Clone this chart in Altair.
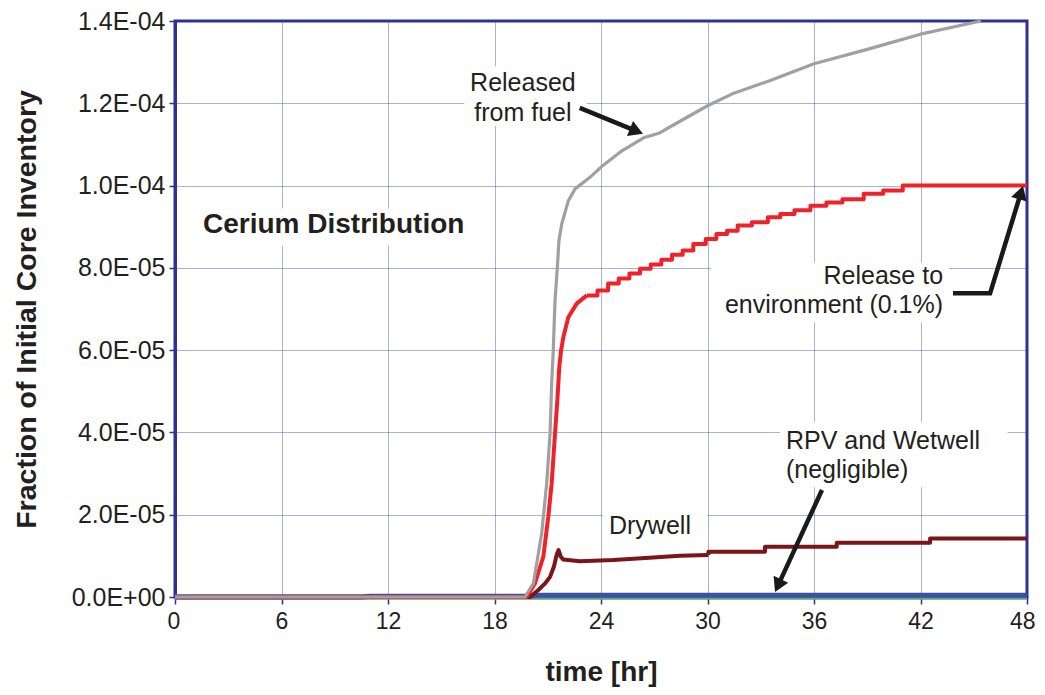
import altair as alt
import pandas as pd

# ---------------- data ----------------
x_ticks = [0, 6, 12, 18, 24, 30, 36, 42, 48]
y_ticks = [0, 2e-5, 4e-5, 6e-5, 8e-5, 1e-4, 1.2e-4, 1.4e-4]

# Released from fuel (grey)
gray_t = [0, 19.72, 20.19, 20.66, 20.94, 21.13, 21.22, 21.31, 21.41, 21.54, 21.63,
          21.79, 22.16, 22.54, 23.38, 24.0, 25.2, 26.4, 27.3, 28.6, 30.0, 31.4,
          33.5, 36.0, 39.0, 42.0, 45.4]
gray_v = [0, 0, 3.3e-6, 1.55e-5, 2.76e-5, 3.97e-5, 5.19e-5, 5.99e-5, 7.21e-5, 8.01e-5,
          8.66e-5, 9.07e-5, 9.63e-5, 9.92e-5, 1.02e-4, 1.045e-4, 1.085e-4, 1.116e-4,
          1.128e-4, 1.16e-4, 1.194e-4, 1.223e-4, 1.255e-4, 1.296e-4, 1.331e-4,
          1.368e-4, 1.4e-4]

# Release to environment (red): smooth rise, then stepped part
red_t = [0, 19.81, 20.28, 20.75, 21.03, 21.22, 21.41, 21.54, 21.65, 21.75, 21.88,
         22.16, 22.63, 23.2]
red_v = [0, 0, 3.3e-6, 9.8e-6, 1.95e-5, 2.76e-5, 3.97e-5, 4.78e-5, 5.59e-5, 5.99e-5,
         6.32e-5, 6.8e-5, 7.13e-5, 7.33e-5]
red_step_t = [23.2, 23.8, 24.4, 25.0, 25.6, 26.2, 26.8, 27.4, 28.0, 28.6, 29.2, 29.9,
              30.5, 31.1, 31.7, 32.5, 33.4, 34.1, 34.9, 35.8, 36.7, 37.6, 38.8, 39.9,
              41.0, 48.0]
red_step_v = [7.33e-5, 7.45e-5, 7.62e-5, 7.74e-5, 7.86e-5, 7.98e-5, 8.08e-5, 8.2e-5,
              8.32e-5, 8.42e-5, 8.58e-5, 8.70e-5, 8.82e-5, 8.90e-5, 9.03e-5, 9.11e-5,
              9.23e-5, 9.31e-5, 9.40e-5, 9.51e-5, 9.59e-5, 9.67e-5, 9.80e-5, 9.88e-5,
              1.0e-4, 1.0e-4]

# Drywell (dark red)
dw_t = [0, 20.0, 20.47, 20.85, 21.13, 21.35, 21.5, 21.61, 21.73, 21.88, 22.8, 24.7,
        26.5, 28.45, 30.05]
dw_v = [0, 0, 1.7e-6, 3.3e-6, 4.9e-6, 7.4e-6, 1.02e-5, 1.14e-5, 9.8e-6, 9.1e-6,
        8.7e-6, 9.0e-6, 9.5e-6, 1.0e-5, 1.02e-5]
dw_step_t = [30.05, 30.05, 33.24, 37.28, 42.54, 48.0]
dw_step_v = [1.02e-5, 1.10e-5, 1.22e-5, 1.32e-5, 1.42e-5, 1.42e-5]

# RPV (blue) and Wetwell (green) - negligible
blue_t = [0, 10.5, 11.0, 19.8, 20.5, 48]
blue_v = [0, 0, 2e-7, 2e-7, 4e-7, 4e-7]
green_t = [0, 48]
green_v = [0, 0]

# annotations
box_t = [16.3, 1.3, 30.2, 34.1, 24.1]
box_t2 = [23.2, 16.8, 43.6, 46.9, 30.0]
box_v = [1.29e-4, 9.44e-5, 8.13e-5, 4.25e-5, 2.3e-5]
box_v2 = [1.145e-4, 8.54e-5, 6.67e-5, 2.67e-5, 1.2e-5]

center_labels = ["Released", "from fuel"]
center_t = [19.6, 19.6]
center_v = [1.2496e-4, 1.177e-4]

right_labels = ["Release to", "environment (0.1%)"]
right_t = [43.27, 43.27]
right_v = [7.79e-5, 7.1e-5]

left_labels = ["RPV and Wetwell", "(negligible)", "Drywell"]
left_t = [34.42, 34.42, 24.45]
left_v = [3.78e-5, 3.08e-5, 1.72e-5]

title_label = ["Cerium Distribution"]
title_t = [1.58]
title_v = [9.03e-5]

arrow_id = [1, 1, 2, 2, 2, 3, 3]
arrow_ord = [0, 1, 0, 1, 2, 0, 1]
arrow_t = [22.8, 26.0, 43.83, 45.92, 47.66, 36.45, 33.97]
arrow_v = [1.189e-4, 1.1324e-4, 7.38e-5, 7.38e-5, 9.83e-5, 2.6e-5, 2.77e-6]
head_t = [26.0, 47.66, 33.97]
head_v = [1.1324e-4, 9.83e-5, 2.77e-6]
head_angle = [112, 17, 205]

# ---------------- chart ----------------
NAVY = "#2E3192"
FONT = "Liberation Sans"
INK = "#231F20"

label_expr = ("datum.value == 0 ? '0.0E+00' : (datum.value < 0.0000999 ? "
              "format(datum.value*100000, '.1f') + 'E-05' : "
              "format(datum.value*10000, '.1f') + 'E-04')")

xscale = alt.Scale(domain=[0, 48], nice=False, zero=False)
yscale = alt.Scale(domain=[0, 1.4e-4], nice=False)

xaxis = alt.Axis(values=x_ticks, title="time [hr]", grid=True, gridColor="#3434A8",
                 gridDash=[1, 1], gridWidth=1, gridOpacity=0.8,
                 labelFlush=True, labelFlushOffset=8,
                 labelFontSize=23, labelColor=INK, labelFont=FONT, labelPadding=6,
                 tickColor=NAVY, tickSize=7, tickWidth=1.5, domainColor=NAVY, domainWidth=3,
                 titleFontSize=28, titleFont=FONT, titleFontWeight="bold",
                 titleColor=INK, titlePadding=25)
yaxis = alt.Axis(values=y_ticks, title="Fraction of Initial Core Inventory", grid=True,
                 gridColor="#3434A8", gridDash=[1, 1], gridWidth=1, gridOpacity=0.8,
                 labelExpr=label_expr, labelFontSize=25, labelColor=INK, labelFlush=False,
                 labelFont=FONT, labelPadding=4,
                 tickColor=NAVY, tickSize=6, tickWidth=1.5, domainColor=NAVY, domainWidth=3,
                 titleFontSize=28.5, titleFont=FONT, titleFontWeight="bold",
                 titleColor=INK, titlePadding=30)


def X(field="t"):
    return alt.X(f"{field}:Q", scale=xscale, axis=xaxis)


def Y(field="v"):
    return alt.Y(f"{field}:Q", scale=yscale, axis=yaxis)


def line(ts, vs, color, width, interp="linear"):
    df = pd.DataFrame({"t": ts, "v": vs, "i": list(range(len(ts)))})
    return alt.Chart(df).mark_line(color=color, strokeWidth=width, interpolate=interp,
                                   strokeJoin="round").encode(
        x=X(), y=Y(), order="i:Q")


boxes = alt.Chart(pd.DataFrame({"t": box_t, "t2": box_t2, "v": box_v, "v2": box_v2})
                  ).mark_rect(color="white").encode(
    x=X(), x2="t2:Q", y=Y(), y2="v2:Q")

layers = [
    boxes,
    line(green_t, green_v, "#6A9E7A", 5.5),
    line(blue_t, blue_v, "#3953A4", 5),
    line(dw_t, dw_v, "#7B1518", 4),
    line(dw_step_t, dw_step_v, "#7B1518", 4, "step-after"),
    line(red_t, red_v, "#EE2229", 4),
    line(red_step_t, red_step_v, "#EE2229", 4, "step-after"),
    line(gray_t, gray_v, "#A0A0A2", 3.2),
]

arrows = alt.Chart(pd.DataFrame({"t": arrow_t, "v": arrow_v, "id": arrow_id,
                                 "o": arrow_ord})).mark_line(
    color="#1A1A1A", strokeWidth=4.5, strokeJoin="miter").encode(
    x=X(), y=Y(), detail="id:N", order="o:Q")
heads = alt.Chart(pd.DataFrame({"t": head_t, "v": head_v, "a": head_angle})).mark_point(
    shape="triangle-up", filled=True, color="#1A1A1A", opacity=1, size=260).encode(
    x=X(), y=Y(), angle=alt.Angle("a:Q", scale=None))


def texts(labels, ts, vs, align, size=25, weight="normal"):
    df = pd.DataFrame({"t": ts, "v": vs, "label": labels})
    return alt.Chart(df).mark_text(align=align, baseline="middle", fontSize=size,
                                   font=FONT, fontWeight=weight, color=INK).encode(
        x=X(), y=Y(), text="label:N")


layers += [
    arrows, heads,
    texts(center_labels, center_t, center_v, "center"),
    texts(right_labels, right_t, right_v, "right"),
    texts(left_labels, left_t, left_v, "left"),
    texts(title_label, title_t, title_v, "left", size=28, weight="bold"),
]

chart = alt.layer(*layers).properties(
    width=852, height=576,
    autosize=alt.AutoSizeParams(type="none"),
    padding={"left": 167, "top": 13, "right": 10, "bottom": 90},
    background="white",
).configure_view(stroke=NAVY, strokeWidth=3)

chart.save("out.html", embed_options={"renderer": "svg", "actions": False})
